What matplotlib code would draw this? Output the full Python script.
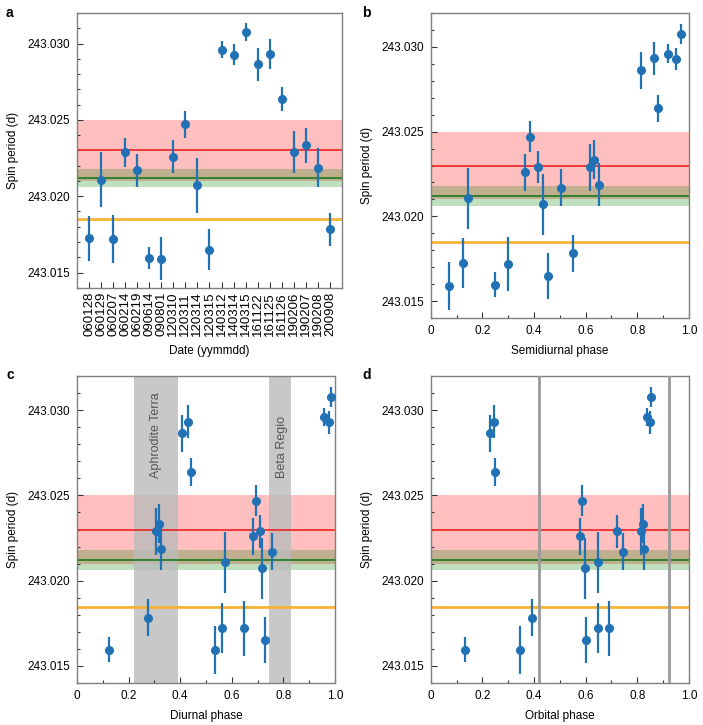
import numpy as np
import matplotlib
matplotlib.use('Agg')
import matplotlib.pyplot as plt
from matplotlib.ticker import MultipleLocator, FormatStrFormatter

plt.rcParams['font.family'] = ['Liberation Sans', 'DejaVu Sans']
plt.rcParams['font.size'] = 8.5

dates = ['060128', '060129', '060207', '060214', '060219', '090614', '090801',
         '120310', '120311', '120314', '120315', '140312', '140314', '140315',
         '161122', '161125', '161126', '190206', '190207', '190208', '200908']
period = [243.01724, 243.02107, 243.01720, 243.02289, 243.02170, 243.01596, 243.01591,
          243.02259, 243.02470, 243.02072, 243.01650, 243.02961, 243.02928, 243.03076,
          243.02863, 243.02933, 243.02637, 243.02289, 243.02335, 243.02187, 243.01783]
err = [0.00147, 0.00180, 0.00160, 0.00095, 0.00108, 0.00074, 0.00141,
       0.00108, 0.00091, 0.00180, 0.00135, 0.00054, 0.00066, 0.00059,
       0.00110, 0.00098, 0.00080, 0.00138, 0.00115, 0.00127, 0.00109]
semidiurnal = [0.126, 0.143, 0.298, 0.415, 0.503, 0.249, 0.070,
               0.367, 0.385, 0.434, 0.454, 0.918, 0.951, 0.970,
               0.813, 0.863, 0.881, 0.616, 0.634, 0.651, 0.550]
diurnal = [0.564, 0.573, 0.649, 0.710, 0.754, 0.124, 0.535,
           0.684, 0.694, 0.719, 0.728, 0.959, 0.977, 0.985,
           0.406, 0.431, 0.441, 0.307, 0.317, 0.326, 0.275]
orbital = [0.646, 0.649, 0.689, 0.720, 0.744, 0.133, 0.347,
           0.579, 0.584, 0.598, 0.603, 0.839, 0.849, 0.854,
           0.229, 0.244, 0.249, 0.816, 0.821, 0.825, 0.394]

# reference estimates
red_mean, red_lo, red_hi = 243.0230, 243.0210, 243.0250
green_mean, green_lo, green_hi = 243.0212, 243.0206, 243.0218
orange_mean = 243.01848

aphrodite = (0.221, 0.391)
beta = (0.746, 0.828)
orbital_lines = [0.421, 0.921]

fig = plt.figure(figsize=(7.03, 7.25), dpi=100)
ax_a = fig.add_axes([0.1095, 0.603, 0.377, 0.379])
ax_b = fig.add_axes([0.6127, 0.5614, 0.3673, 0.4206])
ax_c = fig.add_axes([0.1095, 0.0579, 0.367, 0.4235])
ax_d = fig.add_axes([0.6127, 0.0579, 0.3673, 0.4235])


def decorate(ax, x):
    ax.axhspan(red_lo, red_hi, color='red', alpha=0.25, lw=0, zorder=1)
    ax.axhspan(green_lo, green_hi, color='green', alpha=0.25, lw=0, zorder=1.1)
    ax.axhline(red_mean, color='#ee2222', lw=1.2, zorder=2)
    ax.axhline(green_mean, color='#1a7a1a', lw=1.2, zorder=2)
    ax.axhline(orange_mean, color='#f5b335', lw=2, zorder=2)
    ax.errorbar(x, period, yerr=err, fmt='o', color='#2171b5', ms=5.5,
                elinewidth=1.6, capsize=0, zorder=5)
    ax.set_ylim(243.014, 243.032)
    ax.yaxis.set_major_locator(MultipleLocator(0.005))
    ax.yaxis.set_minor_locator(MultipleLocator(0.001))
    ax.yaxis.set_major_formatter(FormatStrFormatter('%.3f'))
    ax.set_ylabel('Spin period (d)', labelpad=6)
    ax.tick_params(which='both', direction='in', top=False, right=False,
                   colors='#333333', labelcolor='black', width=0.8)
    ax.tick_params(which='major', length=4, pad=5)
    ax.tick_params(which='minor', length=2.5)
    for s in ax.spines.values():
        s.set_color('#808080')
        s.set_linewidth(1)


decorate(ax_a, np.arange(len(dates)))
ax_a.set_xlim(-1, len(dates))
ax_a.set_xticks(np.arange(len(dates)))
ax_a.set_xticklabels(dates, rotation=90, fontsize=9.5)
ax_a.tick_params(axis='x', pad=3)
ax_a.set_xlabel('Date (yymmdd)', labelpad=6)

for ax, x, lab in [(ax_b, semidiurnal, 'Semidiurnal phase'),
                   (ax_c, diurnal, 'Diurnal phase'),
                   (ax_d, orbital, 'Orbital phase')]:
    decorate(ax, x)
    ax.set_xlim(0, 1)
    ax.xaxis.set_minor_locator(MultipleLocator(0.1))
    ax.set_xticks([0, 0.2, 0.4, 0.6, 0.8, 1.0])
    ax.set_xticklabels(['0', '0.2', '0.4', '0.6', '0.8', '1.0'])
    ax.set_xlabel(lab, labelpad=6)

# terrain bands sit above the shaded ranges but under the lines
ax_c.axvspan(*aphrodite, color='#bbbbbb', lw=0, zorder=1.5, alpha=0.8)
ax_c.axvspan(*beta, color='#bbbbbb', lw=0, zorder=1.5, alpha=0.8)
ax_c.text(sum(aphrodite) / 2, 243.0260, 'Aphrodite Terra', rotation=90,
          ha='center', va='bottom', color='#555555', fontsize=9, zorder=4)
ax_c.text(sum(beta) / 2 + 0.006, 243.0260, 'Beta Regio', rotation=90,
          ha='center', va='bottom', color='#555555', fontsize=9, zorder=4)

for xv in orbital_lines:
    ax_d.axvline(xv, color='#999999', lw=2, zorder=3)

for lab, (px, py) in zip('abcd', [(6, 6), (362, 6), (6, 368), (362, 368)]):
    fig.text(px / 703, 1 - py / 725, lab, fontweight='bold', fontsize=10,
             ha='left', va='top')

fig.savefig('out.png', dpi=100)
